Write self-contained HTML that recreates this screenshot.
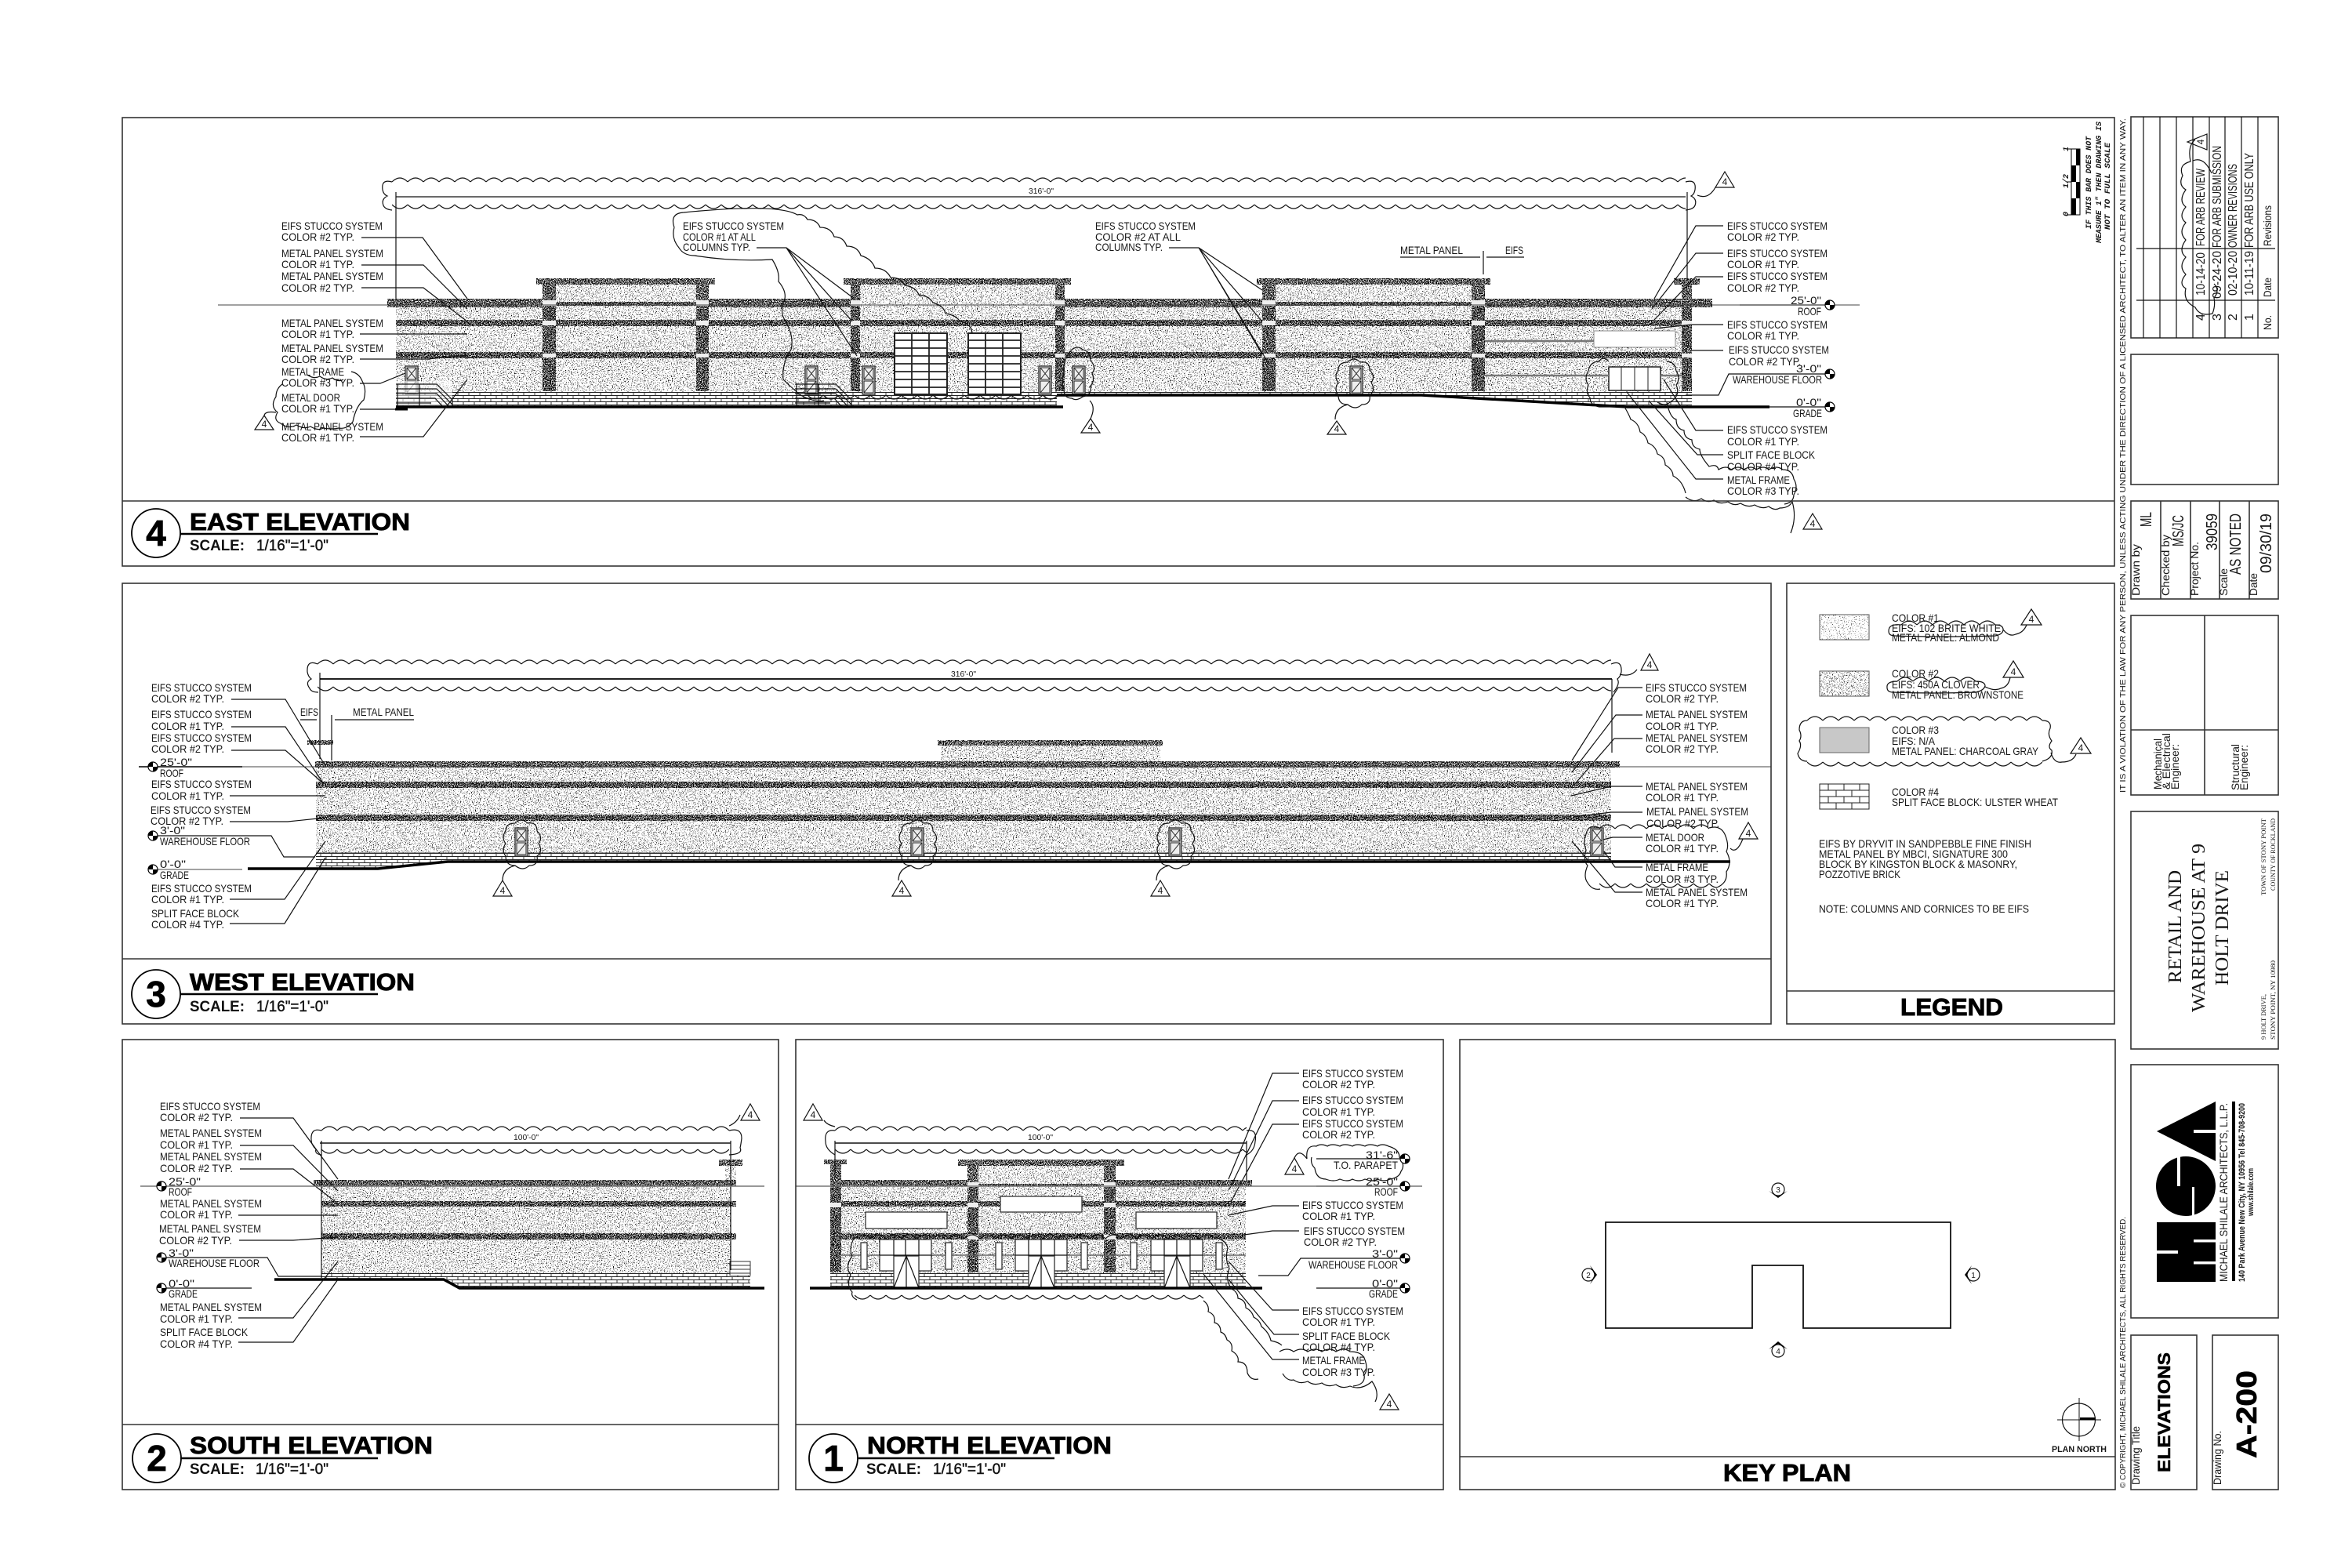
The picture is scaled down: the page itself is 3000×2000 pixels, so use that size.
<!DOCTYPE html>
<html><head><meta charset="utf-8"><title>A-200 Elevations</title>
<style>
html,body{margin:0;padding:0;background:#fff}
svg{display:block}
text{font-family:"Liberation Sans",sans-serif;font-size:14px;fill:#161616}
.f{fill:none;stroke:#333;stroke-width:1.6}
.l{fill:none;stroke:#111;stroke-width:1.2}
.b{fill:none;stroke:#000;stroke-width:3.5}
.g{fill:none;stroke:#777;stroke-width:1}
.c{fill:none;stroke:#111;stroke-width:1.2}
.h{font-weight:700;font-size:31px;fill:#000;stroke:#000;stroke-width:.9}
.n{font-weight:700;font-size:46px;fill:#000;stroke:#000;stroke-width:.8;text-anchor:middle}
.s{font-weight:700;font-size:19px;fill:#111}
.r{font-size:19px;fill:#111;stroke:#111;stroke-width:.4}
.d{font-size:10px}
.m{font-size:12px;text-anchor:middle}
.tri{fill:#fff;stroke:#111;stroke-width:1.2}
.y{font-size:10px}
.v{font-size:16px}
.big{font-size:20px}
.sf{font-family:"Liberation Serif",serif;font-size:24px}
.sm{font-family:"Liberation Serif",serif;font-size:8px}
.it{font-family:"Liberation Mono",monospace;font-style:italic;font-size:10px;font-weight:700}
</style></head><body>
<svg xmlns="http://www.w3.org/2000/svg" width="3000" height="2000" viewBox="0 0 3000 2000">
<defs>
<filter id="lt" x="0" y="0" width="1" height="1" color-interpolation-filters="sRGB"><feTurbulence type="fractalNoise" baseFrequency=".8" numOctaves="2" seed="4"/><feColorMatrix values="0 0 0 0 0 0 0 0 0 0 0 0 0 0 0 -12 0 0 0 4.8"/><feComposite in2="SourceAlpha" operator="in"/></filter>
<filter id="dk" x="0" y="0" width="1" height="1" color-interpolation-filters="sRGB"><feTurbulence type="fractalNoise" baseFrequency=".9" numOctaves="2" seed="9"/><feColorMatrix values="0 0 0 0 0 0 0 0 0 0 0 0 0 0 0 -12 0 0 0 6.9"/><feComposite in2="SourceAlpha" operator="in"/></filter>
<filter id="sp" x="0" y="0" width="1" height="1" color-interpolation-filters="sRGB"><feTurbulence type="fractalNoise" baseFrequency=".8" numOctaves="2" seed="2"/><feColorMatrix values="0 0 0 0 0 0 0 0 0 0 0 0 0 0 0 -12 0 0 0 4.2"/><feComposite in2="SourceAlpha" operator="in"/></filter>
<pattern id="st" width="20" height="8" patternUnits="userSpaceOnUse"><path d="M0 7Q10-3 20 7" fill="none" stroke="#111" stroke-width="1.2"/></pattern>
<pattern id="sb" width="20" height="8" patternUnits="userSpaceOnUse"><path d="M0 1Q10 11 20 1" fill="none" stroke="#111" stroke-width="1.2"/></pattern>
<pattern id="br" width="14" height="8" patternUnits="userSpaceOnUse"><rect width="14" height="8" fill="#fff"/><path d="M0 .5H14M0 4.5H14M3 0V4M10 4V8" stroke="#222" stroke-width=".9" fill="none"/></pattern>
<g id="dr"><rect width="16" height="36" fill="#eee" stroke="#333" stroke-width="1.4"/><path d="M2 2H14V17H2ZM2 17L14 2M2 2L14 17M2 19H14V34H2ZM2 34L14 19" fill="none" stroke="#222"/></g>
<g id="dc"><path class="c" d="M-8 4q8-8 16 0q12-2 12 10q8 8 2 16q6 10-2 16q2 12-10 12q-8 8-18 0q-12 0-12-12q-6-8 0-16q-6-8 0-16q0-10 12-10zM-8 58q-16 4-16 19"/></g>
<g id="tg"><circle r="6" fill="#fff" stroke="#000" stroke-width="1.2"/><path d="M0 0V-6.500A6.500 6.500 0 0 0-6.500 0ZM0 0V6.500A6.500 6.500 0 0 0 6.500 0Z" fill="#000"/></g>
<g id="sr"><path class="l" d="M0 4H52L72 24V33M0 10H52L72 30M0 16H52L68 33M0 22H50L60 33M0 28H45M30 4V33M2 4V33"/></g>
</defs>
<rect width="3000" height="2000" fill="#fff"/>

<!-- stipple fields -->
<g filter="url(#lt)" fill="#000">
<rect x="505" y="392" width="1653" height="107"/><rect x="709" y="363" width="179" height="29"/><rect x="1097" y="363" width="249" height="29"/><rect x="1627" y="363" width="250" height="29"/>
<rect x="403" y="979" width="1652" height="109"/><rect x="1200" y="951" width="280" height="20"/>
<rect x="410" y="1513" width="522" height="111"/><rect x="925" y="1487" width="14" height="18"/>
<rect x="1059" y="1513" width="530" height="111"/><rect x="1248" y="1487" width="160" height="26"/>
<rect x="2321" y="856" width="63" height="32"/>
</g>
<g filter="url(#sp)" fill="#000"><rect x="2321" y="784" width="63" height="32"/></g>
<g filter="url(#dk)" fill="#000">
<rect x="494" y="381" width="198" height="11"/><rect x="904" y="381" width="181" height="11"/><rect x="1358" y="381" width="252" height="11"/><rect x="1894" y="381" width="290" height="11"/>
<rect x="709" y="385" width="179" height="5"/><rect x="1627" y="385" width="250" height="5"/>
<rect x="505" y="408" width="1653" height="8"/><rect x="505" y="449" width="1653" height="8"/>
<rect x="684" y="355" width="228" height="8"/><rect x="1076" y="355" width="290" height="8"/><rect x="1603" y="355" width="298" height="8"/><rect x="2135" y="355" width="33" height="8"/>
<rect x="692" y="363" width="17" height="136"/><rect x="888" y="363" width="16" height="136"/><rect x="1085" y="363" width="12" height="136"/><rect x="1346" y="363" width="12" height="136"/><rect x="1610" y="363" width="17" height="136"/><rect x="1877" y="363" width="17" height="136"/><rect x="2145" y="363" width="13" height="136"/>
<rect x="402" y="971" width="1664" height="8"/><rect x="403" y="997" width="1652" height="8"/><rect x="403" y="1039" width="1652" height="8"/><rect x="1196" y="944" width="287" height="7"/><rect x="392" y="944" width="33" height="6"/>
<rect x="400" y="1505" width="539" height="8"/><rect x="410" y="1532" width="529" height="7"/><rect x="410" y="1573" width="529" height="8"/><rect x="917" y="1479" width="30" height="8"/>
<rect x="1059" y="1505" width="175" height="8"/><rect x="1423" y="1505" width="174" height="8"/><rect x="1248" y="1510" width="160" height="3"/><rect x="1059" y="1532" width="530" height="7"/><rect x="1059" y="1573" width="530" height="8"/>
<rect x="1051" y="1479" width="29" height="6"/><rect x="1222" y="1479" width="212" height="8"/><rect x="1059" y="1485" width="14" height="138"/><rect x="1234" y="1487" width="14" height="136"/><rect x="1408" y="1487" width="15" height="136"/>
</g>

<!-- east details -->
<path d="M692 383h17v7h-17zM888 383h16v7h-16zM1085 383h12v7h-12zM1346 383h12v7h-12zM1610 383h17v7h-17zM1877 383h17v7h-17zM692 409h17v6h-17zM888 409h16v6h-16zM1085 409h12v6h-12zM1346 409h12v6h-12zM1610 409h17v6h-17zM1877 409h17v6h-17zM2145 409h13v6h-13zM692 451h17v5h-17zM888 451h16v5h-16zM1085 451h12v5h-12zM1346 451h12v5h-12zM1610 451h17v5h-17zM1877 451h17v5h-17zM2145 451h13v5h-13z" fill="#eee"/>
<rect x="505" y="499" width="843" height="20" fill="url(#br)"/><rect x="1348" y="499" width="465" height="5" fill="url(#br)"/><path d="M1813 499H2158V519H2075L1813 504Z" fill="url(#br)"/>
<g fill="#fff" stroke="#222" stroke-width="2">
<rect x="1141" y="425" width="67" height="78"/><rect x="1235" y="425" width="67" height="78"/></g>
<path d="M1163 425V503M1185 425V503M1141 434H1208M1141 444H1208M1141 454H1208M1141 464H1208M1141 474H1208M1141 484H1208M1141 494H1208M1257 425V503M1279 425V503M1235 434H1302M1235 444H1302M1235 454H1302M1235 464H1302M1235 474H1302M1235 484H1302M1235 494H1302" stroke="#222" stroke-width="1.8" fill="none"/>
<rect x="2033" y="422" width="104" height="21" fill="#fff" stroke="#888"/>
<rect x="2052" y="468" width="66" height="30" fill="#fff" stroke="#222" stroke-width="1.5"/><path d="M2068 468V498M2085 468V498M2102 468V498" stroke="#222" fill="none"/>
<path d="M1894 435H2033M1894 479H2052M2118 479H2145" stroke="#777" stroke-width="2.500" fill="none"/>
<use href="#dr" x="517" y="467"/><use href="#dr" x="1027" y="467"/><use href="#dr" x="1100" y="467"/><use href="#dr" x="1325" y="467"/><use href="#dr" x="1368" y="467"/><use href="#dr" x="1722" y="467"/>
<rect x="505" y="486" width="72" height="33" fill="#fff" opacity=".6"/><use href="#sr" x="505" y="486"/><use href="#sr" x="1014" y="486"/>
<path class="b" d="M505 519H1356M1348 504H1813L2075 519H2257"/>
<path class="l" d="M461 303H539L596 381M461 338H540L596 394M461 367H540L596 410M459 426H596M459 458H545L596 453M459 489H485L517 476M459 522H504M459 557H540L596 484M965 316H1003L1087 379M1003 316L1087 410M1003 316L1093 454M1491 316H1529L1610 370M1529 316L1610 410M1529 316L1610 452M1529 316L1619 465M1786 328H1888M1896 328H1944M1892 320V350M2198 288H2163L2110 381M2198 323H2163L2107 394M2198 353H2163L2110 408M2198 414H2158L2110 419M2198 447H2158M2330 477H2205L2192 504H2150M2257 519H2330M2219 389H2330M2198 549H2163L2122 484M2198 580H2165L2103 511M2198 611H2163L2075 500"/>
<path class="l" d="M505 251H2150M505 245V381M2152 245V358" stroke-width="1"/>
<path d="M278 389H2372" stroke="#444" stroke-width=".9"/>
<path d="M504 522h16" stroke="#000" stroke-width="3"/>
<rect transform="translate(500 225)" width="1650" height="8" fill="url(#st)"/><rect transform="translate(500 260)" width="1650" height="8" fill="url(#sb)"/>
<path class="c" d="M500 232q-14-4-12 10q1 6 6 8q-8 4-5 12q2 5 11 6M2150 232q14-4 12 10q-1 6-5 8q8 4 5 12q-2 5-12 6M2165 249q14 6 23-10M860 290q-6-18 12-19q120-12 145 3q8-2 13 6q12 0 16 10q14 0 18 12q12 0 16 12q14 0 18 12q14 4 18 16q14 0 20 12q14 0 18 10q14 2 18 12q14 2 18 10q14 4 16 14q14 2 18 10q14 2 16 14M860 290q-4 14 6 26q6 10 20 10q50 8 99 5q10 16 8 28q10 12 8 22q-8 18 2 30q10 20 6 35q-12 18-10 38q8 8 22 20q20 10 30 7"/>
<rect transform="translate(1030 503)" width="320" height="8" fill="url(#sb)"/>
<use href="#dc" x="1727" y="458"/>
<path class="c" d="M1367 446q8-6 14 0q10 2 10 14q8 8 2 16q4 10-2 16q2 12-10 14q-8 6-14 2q-10 0-10-12q-4-10 0-20q-2-16 10-30zM1390 511q8 8 1 23"/>
<path class="c" d="M2052 461q-8-8-12 0q-12 0-14 12q-6 10 0 18q-4 10 2 16q0 10 12 12q0 0 20 0M2126 461q10 0 12 12q6 10 0 18q6 14-8 22q-6 6-16 0M2072 519q6 10 8 16q10 4 12 16q8 4 10 14q10 4 12 14q10 4 10 14q10 6 10 14q12 6 16 22M2126 513q4 20 12 22q0 12 10 14q0 10 10 12q0 10 10 12q0 8 12 22q10-4 12 4q10-6 16 0q10-6 16 0q10-6 16 0q10-6 16 0q10-6 18 0q12 0 14 12q6 10 0 20q0 10-12 12"/>
<path class="c" d="M2150 634q10 8 20 2q8 6 16 2q8 6 18 2q8 6 16 2q10 6 18 2q10 6 18 2q8 6 14 2q12 0 16-8q6 20-2 40"/>

<!-- west details -->
<rect x="403" y="1088" width="1652" height="11" fill="url(#br)"/><path d="M403 1099H571L482 1108H403Z" fill="url(#br)"/>
<path d="M403 1088H2055" stroke="#333" stroke-width="1"/>
<path class="b" d="M316 1108H482L571 1099H2207"/>
<path class="l" d="M295 892H364L415 977M295 927H364L413 1000M295 957H364L411 998M293 1015H415M293 1048H367L415 1043M195 1066H346L362 1093H402M293 1147H363L415 1073M293 1178H363L415 1094M2095 877H2064L2005 970M2095 912H2061L2005 985M2095 942H2059L2007 1002M2095 1003H2055L2004 1015M2095 1036H2055L2007 1042M2095 1068H2057L2036 1073M2095 1106H2060L2046 1086M2095 1138H2060L2005 1073M383 918H404M427 918H528M408 858V968M423 912V970M2056 866V960"/>
<path d="M408 866H2056" stroke="#000" stroke-width="1.800"/>
<path d="M177 978H309" stroke="#000" stroke-width="1.600"/><path d="M309 978H2259" stroke="#444" stroke-width=".9"/><path d="M195 1109H309" stroke="#444"/>
<rect transform="translate(405 840)" width="1650" height="8" fill="url(#st)"/><rect transform="translate(405 875)" width="1650" height="8" fill="url(#sb)"/>
<path class="c" d="M405 847q-14-6-13 10q1 6 5 9q-8 4-2 12q2 5 11 5M2055 847q14-6 13 10q-1 6-5 9q4 6-5 17M2066 860q14 4 22-6"/>
<use href="#dc" x="665" y="1046"/><use href="#dc" x="1170" y="1046"/><use href="#dc" x="1499" y="1046"/>
<use href="#dr" x="657" y="1056"/><use href="#dr" x="1162" y="1056"/><use href="#dr" x="1491" y="1056"/><use href="#dr" x="2029" y="1056"/>
<rect transform="translate(2040 1050)" width="140" height="8" fill="url(#st)"/><rect transform="translate(2040 1126)" width="150" height="8" fill="url(#sb)"/>
<path class="c" d="M2040 1056q-14-6-17 8q-4 10 0 20q-4 14 2 20q-6 14 0 22q6 10 16 8M2180 1056q14-4 20 8q6 14 2 22q8 14 0 26q2 14-12 20M2207 1082q8 8 16-12"/>

<!-- south details -->
<rect x="410" y="1624" width="522" height="8" fill="url(#br)"/><path d="M566 1632H957V1643H586Z" fill="url(#br)"/>
<rect x="931" y="1609" width="26" height="18" fill="#fff" stroke="#333"/><path d="M931 1614H957M931 1619H957M931 1624H957" stroke="#333"/><rect x="929" y="1627" width="28" height="16" fill="url(#br)"/>
<path class="b" d="M350 1632H566L586 1643H975"/>
<path class="l" d="M306 1426H374L431 1504M306 1461H374L431 1519M306 1491H374L428 1533M304 1550H431M305 1582H374L431 1578M206 1604H341L355 1628H411M304 1681H374L431 1609M304 1712H374L431 1632M206 1643H321M410 1455V1630M932 1455V1620"/>
<path d="M408 1458H932" stroke="#111" stroke-width="1.400"/>
<path d="M179 1513H975" stroke="#777" stroke-width="1.500"/>
<rect transform="translate(410 1435)" width="520" height="8" fill="url(#st)"/><rect transform="translate(410 1465)" width="520" height="8" fill="url(#sb)"/>
<path class="c" d="M410 1442q-14-4-13 12q0 6 6 12q-2 6 7 7M930 1442q16-4 16 10q-1 8-2 12q4 8-14 9M930 1436q10-4 14-14"/>

<!-- north details -->
<rect x="1059" y="1624" width="530" height="19" fill="url(#br)"/>
<path d="M1073 1601H1589" stroke="#666" stroke-width="1.600"/>
<path d="M1059 1534h14v6h-14zM1234 1508h14v6h-14zM1408 1508h15v6h-15zM1234 1534h14v6h-14zM1408 1534h15v6h-15zM1234 1575h14v6h-14zM1408 1575h15v6h-15z" fill="#eee"/>
<g fill="#fff" stroke="#333" stroke-width="1.300">
<rect x="1104" y="1546" width="104" height="21"/><rect x="1276" y="1526" width="104" height="20"/><rect x="1449" y="1546" width="103" height="21"/>
<rect x="1122" y="1581" width="66" height="40"/><rect x="1295" y="1581" width="66" height="40"/><rect x="1468" y="1581" width="66" height="40"/>
<rect x="1098" y="1585" width="8" height="34"/><rect x="1206" y="1585" width="8" height="34"/><rect x="1270" y="1585" width="8" height="34"/><rect x="1379" y="1585" width="8" height="34"/><rect x="1442" y="1585" width="8" height="34"/><rect x="1551" y="1585" width="8" height="34"/>
<rect x="1140" y="1602" width="32" height="41"/><rect x="1312" y="1602" width="33" height="41"/><rect x="1485" y="1602" width="33" height="41"/>
</g>
<path class="l" d="M1140 1581V1602M1155 1581V1602M1172 1581V1602M1122 1601H1188M1312 1581V1602M1328 1581V1602M1345 1581V1602M1295 1601H1361M1485 1581V1602M1501 1581V1602M1518 1581V1602M1468 1601H1534M1156 1602V1643M1140 1643L1148 1622L1156 1602L1164 1622L1172 1643M1328 1602V1643M1312 1643L1328 1602L1345 1643M1501 1602V1643M1485 1643L1501 1602L1518 1643"/>
<path class="b" d="M1033 1643H1610"/>
<path class="l" d="M1657 1369H1623L1567 1504M1657 1404H1623L1568 1517M1657 1434H1623L1570 1533M1657 1538H1623L1567 1550M1657 1570H1623L1587 1575M1788 1605H1659L1643 1627H1605M1679 1643H1788M1657 1671H1623L1567 1609M1657 1702H1625L1567 1632M1657 1734H1623L1535 1625M1679 1478H1788M1679 1513H1788M1065 1455V1500M1590 1455V1505"/>
<path d="M1065 1458H1590" stroke="#111" stroke-width="1.400"/>
<path d="M1015 1513H1814" stroke="#777" stroke-width="1.500"/>
<rect transform="translate(1065 1435)" width="525" height="8" fill="url(#st)"/><rect transform="translate(1065 1465)" width="525" height="8" fill="url(#sb)"/>
<path class="c" d="M1065 1442q-14-2-12 14q0 10 12 17M1590 1442q14-2 11 14q-1 12-11 17M1065 1437q-10-2-14-8"/>
<rect transform="translate(1090 1573)" width="460" height="8" fill="url(#st)"/><rect transform="translate(1090 1651)" width="445" height="8" fill="url(#sb)"/>
<path class="c" d="M1090 1578q-8 14-3 24q-10 14-2 24q-6 14 2 22q-2 6 6 10M1550 1578q14 4 16 14q-4 14 2 26q-6 14 3 26q8 4 8 12q10 2 10 12q8 4 10 12q8 4 10 12q10 8 12 18q10 2 14 6M1535 1659q8 6 6 14q10 4 8 14q8 2 8 12q6 2 8 10q8 4 6 14q10 6 8 14q12 0 12 14q4 10 14 8M1632 1724q10-6 18 0q10-6 18 0q10-6 18 0q10-6 18 0q10-6 18 0q14 0 18 8q6 14 0 22q2 12-14 14M1636 1752q6 10 14 8q8 6 18 2q8 6 18 2q8 6 18 2q8 6 18 2q14 6 28-6q10 14 4 26M1667 1478q-2-18 12-16q6-4 14 0q6-4 16 0q6-4 16 0q6-4 16 0q6-4 16 0q6-4 14 0q14 4 14 14q8 10 2 18q-2 8-14 10q-8 4-16 0q-6 4-16 0q-8 4-16 0q-6 4-16 0q-8 4-18 0q-12 0-14-14q-6-6-4-14M1667 1478q-10-14-16-1"/>

<!-- triangles -->
<g class="tri">
<path d="M2200 219l12 20h-24zM337 530l12 18h-24zM1391 534l12 18h-24zM1705 537l12 17h-24zM2312 655l12 20h-24zM2104 834l11 21h-22zM641 1123l12 20h-24zM1150 1123l12 20h-24zM1480 1123l12 20h-24zM2230 1049l12 21h-24zM957 1408l12 21h-24zM1037 1408l12 21h-24zM1651 1477l12 21h-24zM1772 1778l12 20h-24zM2591 777l13 20h-26zM2568 843l13 21h-26zM2654 941l13 20h-26zM2790 181l25-10v20z"/>
</g>
<g class="m">
<text class="m" x="2200" y="236">4</text><text class="m" x="337" y="545">4</text><text class="m" x="1391" y="549">4</text><text class="m" x="1705" y="551">4</text><text class="m" x="2312" y="672">4</text><text class="m" x="2104" y="852">4</text><text class="m" x="641" y="1140">4</text><text class="m" x="1150" y="1140">4</text><text class="m" x="1480" y="1140">4</text><text class="m" x="2230" y="1067">4</text><text class="m" x="957" y="1426">4</text><text class="m" x="1037" y="1426">4</text><text class="m" x="1651" y="1495">4</text><text class="m" x="1772" y="1795">4</text><text class="m" x="2591" y="794">4</text><text class="m" x="2568" y="861">4</text><text class="m" x="2654" y="958">4</text><text class="m" transform="rotate(-90 2811 181)" x="2811" y="181">4</text>
</g>

<!-- elevation targets -->
<use href="#tg" x="2334" y="389"/><use href="#tg" x="2334" y="477"/><use href="#tg" x="2334" y="519"/>
<use href="#tg" x="195" y="978"/><use href="#tg" x="195" y="1066"/><use href="#tg" x="195" y="1109"/>
<use href="#tg" x="206" y="1513"/><use href="#tg" x="206" y="1604"/><use href="#tg" x="206" y="1643"/>
<use href="#tg" x="1792" y="1478"/><use href="#tg" x="1792" y="1513"/><use href="#tg" x="1792" y="1605"/><use href="#tg" x="1792" y="1643"/>

<!-- frames -->
<g class="f">
<rect x="156" y="150" width="2541" height="572"/><path d="M156 639H2697"/>
<rect x="156" y="744" width="2103" height="562"/><path d="M156 1223H2259"/>
<rect x="2279" y="744" width="418" height="562"/><path d="M2279 1264H2697"/>
<rect x="156" y="1326" width="837" height="574"/><path d="M156 1817H993"/>
<rect x="1015" y="1326" width="826" height="574"/><path d="M1015 1817H1841"/>
<rect x="1862" y="1326" width="836" height="574"/><path d="M1862 1858H2698"/>
<rect x="2718" y="149" width="188" height="282"/>
<rect x="2718" y="452" width="188" height="166"/>
<rect x="2718" y="639" width="188" height="125"/><path d="M2756 639V764M2794 639V764M2831 639V764M2869 639V764"/>
<rect x="2718" y="785" width="188" height="229"/><path d="M2812 785V1014M2718 931H2906"/>
<rect x="2718" y="1035" width="188" height="303"/>
<rect x="2718" y="1358" width="188" height="323"/>
<rect x="2718" y="1703" width="84" height="197"/>
<rect x="2822" y="1703" width="84" height="197"/>
</g>

<!-- titles -->
<g fill="#fff" stroke="#000" stroke-width="1.800">
<circle cx="199" cy="680" r="31"/><circle cx="199" cy="1268" r="31"/><circle cx="200" cy="1860" r="31"/><circle cx="1063" cy="1860" r="31"/>
</g>
<path d="M230 681H482M230 1268H482M230 1860H482M1095 1860H1345" stroke="#000" stroke-width="2.500"/>
<text class="n" x="199" y="696">4</text><text class="n" x="199" y="1284">3</text><text class="n" x="200" y="1876">2</text><text class="n" x="1063" y="1876">1</text>
<text class="h" x="242" y="676" textLength="281" lengthAdjust="spacingAndGlyphs">EAST ELEVATION</text>
<text class="h" x="242" y="1263" textLength="287" lengthAdjust="spacingAndGlyphs">WEST ELEVATION</text>
<text class="h" x="242" y="1854" textLength="310" lengthAdjust="spacingAndGlyphs">SOUTH ELEVATION</text>
<text class="h" x="1106" y="1854" textLength="312" lengthAdjust="spacingAndGlyphs">NORTH ELEVATION</text>
<text class="s" x="242" y="702" textLength="70" lengthAdjust="spacingAndGlyphs">SCALE:</text><text class="r" x="327" y="702" textLength="92" lengthAdjust="spacingAndGlyphs">1/16"=1'-0"</text>
<text class="s" x="242" y="1290" textLength="70" lengthAdjust="spacingAndGlyphs">SCALE:</text><text class="r" x="327" y="1290" textLength="92" lengthAdjust="spacingAndGlyphs">1/16"=1'-0"</text>
<text class="s" x="242" y="1880" textLength="70" lengthAdjust="spacingAndGlyphs">SCALE:</text><text class="r" x="326" y="1880" textLength="93" lengthAdjust="spacingAndGlyphs">1/16"=1'-0"</text>
<text class="s" x="1105" y="1880" textLength="70" lengthAdjust="spacingAndGlyphs">SCALE:</text><text class="r" x="1190" y="1880" textLength="93" lengthAdjust="spacingAndGlyphs">1/16"=1'-0"</text>
<text class="h" x="2424" y="1295" textLength="131" lengthAdjust="spacingAndGlyphs">LEGEND</text>
<text class="h" x="2198" y="1889" textLength="163" lengthAdjust="spacingAndGlyphs">KEY PLAN</text>

<!-- east labels -->
<text x="359" y="293" textLength="129" lengthAdjust="spacingAndGlyphs">EIFS STUCCO SYSTEM</text><text x="359" y="307" textLength="93" lengthAdjust="spacingAndGlyphs">COLOR #2 TYP.</text>
<text x="359" y="328" textLength="130" lengthAdjust="spacingAndGlyphs">METAL PANEL SYSTEM</text><text x="359" y="342" textLength="93" lengthAdjust="spacingAndGlyphs">COLOR #1 TYP.</text>
<text x="359" y="357" textLength="130" lengthAdjust="spacingAndGlyphs">METAL PANEL SYSTEM</text><text x="359" y="372" textLength="93" lengthAdjust="spacingAndGlyphs">COLOR #2 TYP.</text>
<text x="359" y="417" textLength="130" lengthAdjust="spacingAndGlyphs">METAL PANEL SYSTEM</text><text x="359" y="431" textLength="93" lengthAdjust="spacingAndGlyphs">COLOR #1 TYP.</text>
<text x="359" y="449" textLength="130" lengthAdjust="spacingAndGlyphs">METAL PANEL SYSTEM</text><text x="359" y="463" textLength="93" lengthAdjust="spacingAndGlyphs">COLOR #2 TYP.</text>
<text x="359" y="479" textLength="80" lengthAdjust="spacingAndGlyphs">METAL FRAME</text><text x="359" y="493" textLength="93" lengthAdjust="spacingAndGlyphs">COLOR #3 TYP.</text>
<text x="359" y="512" textLength="75" lengthAdjust="spacingAndGlyphs">METAL DOOR</text><text x="359" y="526" textLength="93" lengthAdjust="spacingAndGlyphs">COLOR #1 TYP.</text>
<text x="359" y="549" textLength="130" lengthAdjust="spacingAndGlyphs">METAL PANEL SYSTEM</text><text x="359" y="563" textLength="93" lengthAdjust="spacingAndGlyphs">COLOR #1 TYP.</text>
<path class="c" d="M392 478q8 6 16 2q8 6 16 2q8 6 14 2M360 490q-8 6-8 16q-8 12 2 20q-6 10 4 14q10 8 20 2q10 6 18 2q10 6 16 2q12 2 20 0q10 2 18-8q4-20 14-28q4-14-2-24q-4-10-14-12M352 526q-14-2-15 4"/>
<text x="871" y="293" textLength="129" lengthAdjust="spacingAndGlyphs">EIFS STUCCO SYSTEM</text><text x="871" y="307" textLength="93" lengthAdjust="spacingAndGlyphs">COLOR #1 AT ALL</text><text x="871" y="320" textLength="86" lengthAdjust="spacingAndGlyphs">COLUMNS TYP.</text>
<text x="1397" y="293" textLength="128" lengthAdjust="spacingAndGlyphs">EIFS STUCCO SYSTEM</text><text x="1397" y="307" textLength="109" lengthAdjust="spacingAndGlyphs">COLOR #2 AT ALL</text><text x="1397" y="320" textLength="86" lengthAdjust="spacingAndGlyphs">COLUMNS TYP.</text>
<text x="1786" y="324" textLength="80" lengthAdjust="spacingAndGlyphs">METAL PANEL</text><text x="1920" y="324" textLength="23" lengthAdjust="spacingAndGlyphs">EIFS</text>
<text class="d" x="1312" y="247" textLength="32" lengthAdjust="spacingAndGlyphs">316'-0"</text>
<text x="2203" y="293" textLength="128" lengthAdjust="spacingAndGlyphs">EIFS STUCCO SYSTEM</text><text x="2203" y="307" textLength="92" lengthAdjust="spacingAndGlyphs">COLOR #2 TYP.</text>
<text x="2203" y="328" textLength="128" lengthAdjust="spacingAndGlyphs">EIFS STUCCO SYSTEM</text><text x="2203" y="342" textLength="92" lengthAdjust="spacingAndGlyphs">COLOR #1 TYP.</text>
<text x="2203" y="357" textLength="128" lengthAdjust="spacingAndGlyphs">EIFS STUCCO SYSTEM</text><text x="2203" y="372" textLength="92" lengthAdjust="spacingAndGlyphs">COLOR #2 TYP.</text>
<text x="2284" y="388" textLength="39" lengthAdjust="spacingAndGlyphs">25'-0"</text><text x="2293" y="402" textLength="30" lengthAdjust="spacingAndGlyphs">ROOF</text>
<text x="2203" y="419" textLength="128" lengthAdjust="spacingAndGlyphs">EIFS STUCCO SYSTEM</text><text x="2203" y="433" textLength="92" lengthAdjust="spacingAndGlyphs">COLOR #1 TYP.</text>
<text x="2205" y="451" textLength="128" lengthAdjust="spacingAndGlyphs">EIFS STUCCO SYSTEM</text><text x="2205" y="466" textLength="92" lengthAdjust="spacingAndGlyphs">COLOR #2 TYP.</text>
<text x="2291" y="475" textLength="32" lengthAdjust="spacingAndGlyphs">3'-0"</text><text x="2210" y="489" textLength="114" lengthAdjust="spacingAndGlyphs">WAREHOUSE FLOOR</text>
<text x="2291" y="518" textLength="32" lengthAdjust="spacingAndGlyphs">0'-0"</text><text x="2287" y="532" textLength="37" lengthAdjust="spacingAndGlyphs">GRADE</text>
<text x="2203" y="553" textLength="128" lengthAdjust="spacingAndGlyphs">EIFS STUCCO SYSTEM</text><text x="2203" y="568" textLength="92" lengthAdjust="spacingAndGlyphs">COLOR #1 TYP.</text>
<text x="2203" y="585" textLength="112" lengthAdjust="spacingAndGlyphs">SPLIT FACE BLOCK</text><text x="2203" y="600" textLength="92" lengthAdjust="spacingAndGlyphs">COLOR #4 TYP.</text>
<text x="2203" y="617" textLength="80" lengthAdjust="spacingAndGlyphs">METAL FRAME</text><text x="2203" y="631" textLength="92" lengthAdjust="spacingAndGlyphs">COLOR #3 TYP.</text>

<!-- west labels -->
<text x="193" y="882" textLength="128" lengthAdjust="spacingAndGlyphs">EIFS STUCCO SYSTEM</text><text x="193" y="896" textLength="93" lengthAdjust="spacingAndGlyphs">COLOR #2 TYP.</text>
<text x="193" y="916" textLength="128" lengthAdjust="spacingAndGlyphs">EIFS STUCCO SYSTEM</text><text x="193" y="931" textLength="93" lengthAdjust="spacingAndGlyphs">COLOR #1 TYP.</text>
<text x="193" y="946" textLength="128" lengthAdjust="spacingAndGlyphs">EIFS STUCCO SYSTEM</text><text x="193" y="960" textLength="93" lengthAdjust="spacingAndGlyphs">COLOR #2 TYP.</text>
<text x="204" y="977" textLength="41" lengthAdjust="spacingAndGlyphs">25'-0"</text><text x="204" y="991" textLength="30" lengthAdjust="spacingAndGlyphs">ROOF</text>
<text x="193" y="1005" textLength="128" lengthAdjust="spacingAndGlyphs">EIFS STUCCO SYSTEM</text><text x="193" y="1020" textLength="93" lengthAdjust="spacingAndGlyphs">COLOR #1 TYP.</text>
<text x="192" y="1038" textLength="128" lengthAdjust="spacingAndGlyphs">EIFS STUCCO SYSTEM</text><text x="192" y="1052" textLength="93" lengthAdjust="spacingAndGlyphs">COLOR #2 TYP.</text>
<text x="204" y="1064" textLength="32" lengthAdjust="spacingAndGlyphs">3'-0"</text><text x="204" y="1078" textLength="115" lengthAdjust="spacingAndGlyphs">WAREHOUSE FLOOR</text>
<text x="204" y="1107" textLength="33" lengthAdjust="spacingAndGlyphs">0'-0"</text><text x="204" y="1121" textLength="37" lengthAdjust="spacingAndGlyphs">GRADE</text>
<text x="193" y="1138" textLength="128" lengthAdjust="spacingAndGlyphs">EIFS STUCCO SYSTEM</text><text x="193" y="1152" textLength="93" lengthAdjust="spacingAndGlyphs">COLOR #1 TYP.</text>
<text x="193" y="1170" textLength="112" lengthAdjust="spacingAndGlyphs">SPLIT FACE BLOCK</text><text x="193" y="1184" textLength="93" lengthAdjust="spacingAndGlyphs">COLOR #4 TYP.</text>
<text x="383" y="913" textLength="23" lengthAdjust="spacingAndGlyphs">EIFS</text><text x="450" y="913" textLength="78" lengthAdjust="spacingAndGlyphs">METAL PANEL</text>
<text class="d" x="1213" y="863" textLength="32" lengthAdjust="spacingAndGlyphs">316'-0"</text>
<text x="2099" y="882" textLength="129" lengthAdjust="spacingAndGlyphs">EIFS STUCCO SYSTEM</text><text x="2099" y="896" textLength="93" lengthAdjust="spacingAndGlyphs">COLOR #2 TYP.</text>
<text x="2099" y="916" textLength="130" lengthAdjust="spacingAndGlyphs">METAL PANEL SYSTEM</text><text x="2099" y="931" textLength="93" lengthAdjust="spacingAndGlyphs">COLOR #1 TYP.</text>
<text x="2099" y="946" textLength="130" lengthAdjust="spacingAndGlyphs">METAL PANEL SYSTEM</text><text x="2099" y="960" textLength="93" lengthAdjust="spacingAndGlyphs">COLOR #2 TYP.</text>
<text x="2099" y="1008" textLength="130" lengthAdjust="spacingAndGlyphs">METAL PANEL SYSTEM</text><text x="2099" y="1022" textLength="93" lengthAdjust="spacingAndGlyphs">COLOR #1 TYP.</text>
<text x="2100" y="1040" textLength="130" lengthAdjust="spacingAndGlyphs">METAL PANEL SYSTEM</text><text x="2100" y="1055" textLength="93" lengthAdjust="spacingAndGlyphs">COLOR #2 TYP.</text>
<text x="2099" y="1073" textLength="75" lengthAdjust="spacingAndGlyphs">METAL DOOR</text><text x="2099" y="1087" textLength="93" lengthAdjust="spacingAndGlyphs">COLOR #1 TYP.</text>
<text x="2099" y="1111" textLength="80" lengthAdjust="spacingAndGlyphs">METAL FRAME</text><text x="2099" y="1126" textLength="93" lengthAdjust="spacingAndGlyphs">COLOR #3 TYP.</text>
<text x="2099" y="1143" textLength="130" lengthAdjust="spacingAndGlyphs">METAL PANEL SYSTEM</text><text x="2099" y="1157" textLength="93" lengthAdjust="spacingAndGlyphs">COLOR #1 TYP.</text>

<!-- legend -->
<g fill="none" stroke="#555"><rect x="2321" y="784" width="63" height="32"/><rect x="2321" y="856" width="63" height="32"/></g>
<rect x="2321" y="928" width="63" height="32" fill="#c8c8c8" stroke="#666"/>
<g><rect x="2321" y="1000" width="63" height="32" fill="#fff" stroke="#222"/><path d="M2321 1008H2384M2321 1016H2384M2321 1024H2384M2332 1000V1008M2352 1000V1008M2372 1000V1008M2342 1008V1016M2362 1008V1016M2332 1016V1024M2352 1016V1024M2372 1016V1024M2342 1024V1032M2362 1024V1032" stroke="#222" fill="none"/></g>
<text x="2413" y="793" textLength="60" lengthAdjust="spacingAndGlyphs">COLOR #1</text><text x="2413" y="806" textLength="139" lengthAdjust="spacingAndGlyphs">EIFS: 102 BRITE WHITE</text><text x="2413" y="818" textLength="137" lengthAdjust="spacingAndGlyphs">METAL PANEL: ALMOND</text>
<text x="2413" y="864" textLength="60" lengthAdjust="spacingAndGlyphs">COLOR #2</text><text x="2413" y="878" textLength="112" lengthAdjust="spacingAndGlyphs">EIFS: 450A CLOVER</text><text x="2413" y="891" textLength="168" lengthAdjust="spacingAndGlyphs">METAL PANEL: BROWNSTONE</text>
<text x="2413" y="936" textLength="60" lengthAdjust="spacingAndGlyphs">COLOR #3</text><text x="2413" y="950" textLength="55" lengthAdjust="spacingAndGlyphs">EIFS: N/A</text><text x="2413" y="963" textLength="187" lengthAdjust="spacingAndGlyphs">METAL PANEL: CHARCOAL GRAY</text>
<text x="2413" y="1015" textLength="60" lengthAdjust="spacingAndGlyphs">COLOR #4</text><text x="2413" y="1028" textLength="212" lengthAdjust="spacingAndGlyphs">SPLIT FACE BLOCK: ULSTER WHEAT</text>
<text x="2320" y="1081" textLength="271" lengthAdjust="spacingAndGlyphs">EIFS BY DRYVIT IN SANDPEBBLE FINE FINISH</text><text x="2320" y="1094" textLength="241" lengthAdjust="spacingAndGlyphs">METAL PANEL BY MBCI, SIGNATURE 300</text><text x="2320" y="1107" textLength="253" lengthAdjust="spacingAndGlyphs">BLOCK BY KINGSTON BLOCK &amp; MASONRY,</text><text x="2320" y="1120" textLength="104" lengthAdjust="spacingAndGlyphs">POZZOTIVE BRICK</text>
<text x="2320" y="1164" textLength="268" lengthAdjust="spacingAndGlyphs">NOTE: COLUMNS AND CORNICES TO BE EIFS</text>
<rect transform="translate(2425 790)" width="120" height="8" fill="url(#st)"/>
<path class="c" d="M2425 797q-16-2-16 8q0 6 8 6q60 2 128 0q10-2 10-8q0-6-10-6M2555 803q8 10 16 6q10-2 14-12"/>
<rect transform="translate(2420 862)" width="100" height="8" fill="url(#st)"/>
<path class="c" d="M2420 869q-14 0-13 8q0 6 8 6q50 2 105 0q10-2 12-8q0-6-12-6M2532 876q12 6 20 2q10-2 12-14"/>
<rect transform="translate(2305 912)" width="300" height="8" fill="url(#st)"/><rect transform="translate(2305 971)" width="300" height="8" fill="url(#sb)"/>
<path class="c" d="M2305 919q-10 0-10 12q4 8 0 14q4 6-2 16q2 10 12 10M2605 919q12 0 10 10q-4 8 2 16q-6 8 0 12q2 10-12 14M2616 960q4 14 14 12q14 0 18-10"/>

<!-- south labels -->
<text x="204" y="1416" textLength="128" lengthAdjust="spacingAndGlyphs">EIFS STUCCO SYSTEM</text><text x="204" y="1430" textLength="93" lengthAdjust="spacingAndGlyphs">COLOR #2 TYP.</text>
<text x="204" y="1450" textLength="130" lengthAdjust="spacingAndGlyphs">METAL PANEL SYSTEM</text><text x="204" y="1465" textLength="93" lengthAdjust="spacingAndGlyphs">COLOR #1 TYP.</text>
<text x="204" y="1480" textLength="130" lengthAdjust="spacingAndGlyphs">METAL PANEL SYSTEM</text><text x="204" y="1495" textLength="93" lengthAdjust="spacingAndGlyphs">COLOR #2 TYP.</text>
<text x="215" y="1512" textLength="41" lengthAdjust="spacingAndGlyphs">25'-0"</text><text x="215" y="1525" textLength="30" lengthAdjust="spacingAndGlyphs">ROOF</text>
<text x="204" y="1540" textLength="130" lengthAdjust="spacingAndGlyphs">METAL PANEL SYSTEM</text><text x="204" y="1554" textLength="93" lengthAdjust="spacingAndGlyphs">COLOR #1 TYP.</text>
<text x="203" y="1572" textLength="130" lengthAdjust="spacingAndGlyphs">METAL PANEL SYSTEM</text><text x="203" y="1587" textLength="93" lengthAdjust="spacingAndGlyphs">COLOR #2 TYP.</text>
<text x="215" y="1603" textLength="32" lengthAdjust="spacingAndGlyphs">3'-0"</text><text x="215" y="1616" textLength="116" lengthAdjust="spacingAndGlyphs">WAREHOUSE FLOOR</text>
<text x="215" y="1642" textLength="33" lengthAdjust="spacingAndGlyphs">0'-0"</text><text x="215" y="1655" textLength="37" lengthAdjust="spacingAndGlyphs">GRADE</text>
<text x="204" y="1672" textLength="130" lengthAdjust="spacingAndGlyphs">METAL PANEL SYSTEM</text><text x="204" y="1687" textLength="93" lengthAdjust="spacingAndGlyphs">COLOR #1 TYP.</text>
<text x="204" y="1704" textLength="112" lengthAdjust="spacingAndGlyphs">SPLIT FACE BLOCK</text><text x="204" y="1719" textLength="93" lengthAdjust="spacingAndGlyphs">COLOR #4 TYP.</text>
<text class="d" x="655" y="1454" textLength="32" lengthAdjust="spacingAndGlyphs">100'-0"</text>

<!-- north labels -->
<text class="d" x="1311" y="1454" textLength="32" lengthAdjust="spacingAndGlyphs">100'-0"</text>
<text x="1661" y="1374" textLength="129" lengthAdjust="spacingAndGlyphs">EIFS STUCCO SYSTEM</text><text x="1661" y="1388" textLength="93" lengthAdjust="spacingAndGlyphs">COLOR #2 TYP.</text>
<text x="1661" y="1408" textLength="129" lengthAdjust="spacingAndGlyphs">EIFS STUCCO SYSTEM</text><text x="1661" y="1423" textLength="93" lengthAdjust="spacingAndGlyphs">COLOR #1 TYP.</text>
<text x="1661" y="1438" textLength="129" lengthAdjust="spacingAndGlyphs">EIFS STUCCO SYSTEM</text><text x="1661" y="1452" textLength="93" lengthAdjust="spacingAndGlyphs">COLOR #2 TYP.</text>
<text x="1742" y="1478" textLength="41" lengthAdjust="spacingAndGlyphs">31'-6"</text><text x="1701" y="1491" textLength="82" lengthAdjust="spacingAndGlyphs">T.O. PARAPET</text>
<text x="1742" y="1512" textLength="41" lengthAdjust="spacingAndGlyphs">25'-0"</text><text x="1753" y="1525" textLength="30" lengthAdjust="spacingAndGlyphs">ROOF</text>
<text x="1661" y="1542" textLength="129" lengthAdjust="spacingAndGlyphs">EIFS STUCCO SYSTEM</text><text x="1661" y="1556" textLength="93" lengthAdjust="spacingAndGlyphs">COLOR #1 TYP.</text>
<text x="1663" y="1575" textLength="129" lengthAdjust="spacingAndGlyphs">EIFS STUCCO SYSTEM</text><text x="1663" y="1589" textLength="93" lengthAdjust="spacingAndGlyphs">COLOR #2 TYP.</text>
<text x="1750" y="1604" textLength="33" lengthAdjust="spacingAndGlyphs">3'-0"</text><text x="1669" y="1618" textLength="114" lengthAdjust="spacingAndGlyphs">WAREHOUSE FLOOR</text>
<text x="1750" y="1642" textLength="33" lengthAdjust="spacingAndGlyphs">0'-0"</text><text x="1746" y="1655" textLength="37" lengthAdjust="spacingAndGlyphs">GRADE</text>
<text x="1661" y="1677" textLength="129" lengthAdjust="spacingAndGlyphs">EIFS STUCCO SYSTEM</text><text x="1661" y="1691" textLength="93" lengthAdjust="spacingAndGlyphs">COLOR #1 TYP.</text>
<text x="1661" y="1709" textLength="112" lengthAdjust="spacingAndGlyphs">SPLIT FACE BLOCK</text><text x="1661" y="1723" textLength="93" lengthAdjust="spacingAndGlyphs">COLOR #4 TYP.</text>
<text x="1661" y="1740" textLength="80" lengthAdjust="spacingAndGlyphs">METAL FRAME</text><text x="1661" y="1755" textLength="93" lengthAdjust="spacingAndGlyphs">COLOR #3 TYP.</text>

<!-- key plan -->
<path d="M2048 1559H2488V1694H2300V1614H2235V1694H2048Z" fill="#fff" stroke="#111" stroke-width="1.800"/>
<g fill="#fff" stroke="#111" stroke-width="1.200"><circle cx="2268" cy="1517" r="8"/><circle cx="2268" cy="1723" r="8"/><circle cx="2026" cy="1626" r="8"/><circle cx="2517" cy="1626" r="8"/></g>
<path d="M2256 1519L2268 1528L2280 1519L2268 1526ZM2256 1721L2268 1711L2280 1721L2268 1714ZM2028 1614L2037 1626L2028 1638L2034 1626ZM2515 1614L2506 1626L2515 1638L2509 1626Z" fill="#000"/>
<g font-size="10"><text class="d" x="2268" y="1521" text-anchor="middle">3</text><text class="d" x="2268" y="1727" text-anchor="middle">4</text><text class="d" x="2026" y="1630" text-anchor="middle">2</text><text class="d" x="2517" y="1630" text-anchor="middle">1</text></g>
<circle cx="2651.500" cy="1811" r="21" fill="none" stroke="#111" stroke-width="1.200"/>
<path d="M2624 1811H2680M2652 1783V1838" stroke="#111"/><rect x="2653" y="1808" width="20" height="3.500"/>
<text x="2617" y="1852" textLength="70" lengthAdjust="spacingAndGlyphs" style="font-size:11px;font-weight:700">PLAN NORTH</text>

<!-- vertical notes -->
<text class="y" transform="rotate(-90 2711 1011)" x="2711" y="1011" textLength="860" lengthAdjust="spacingAndGlyphs">IT IS A VIOLATION OF THE LAW FOR ANY PERSON, UNLESS ACTING UNDER THE DIRECTION OF A LICENSED ARCHITECT, TO ALTER AN ITEM IN ANY WAY.</text>
<text class="y" transform="rotate(-90 2711 1898)" x="2711" y="1898" textLength="346" lengthAdjust="spacingAndGlyphs">© COPYRIGHT, MICHAEL SHILALE ARCHITECTS, ALL RIGHTS RESERVED.</text>

<!-- scale bar -->
<rect x="2642" y="190" width="11" height="84" fill="#fff" stroke="#000"/><path d="M2648 190h5v21h-5zM2642 211h6v21h-6zM2648 232h5v21h-5zM2642 253h6v21h-6z" fill="#000"/><path d="M2636 190h6M2636 232h6M2636 274h6" stroke="#000"/>
<text class="it" transform="rotate(-90 2638 276)" x="2638" y="276">0</text><text class="it" transform="rotate(-90 2638 240)" x="2638" y="240">1/2</text><text class="it" transform="rotate(-90 2638 193)" x="2638" y="193">1</text>
<text class="it" transform="rotate(-90 2667 292)" x="2667" y="292" textLength="118" lengthAdjust="spacingAndGlyphs">IF THIS BAR DOES NOT</text>
<text class="it" transform="rotate(-90 2680 310)" x="2680" y="310" textLength="155" lengthAdjust="spacingAndGlyphs">MEASURE 1" THEN DRAWING IS</text>
<text class="it" transform="rotate(-90 2691 293)" x="2691" y="293" textLength="111" lengthAdjust="spacingAndGlyphs">NOT TO FULL SCALE</text>

<!-- revisions -->
<path class="l" d="M2734 149V431M2755 149V431M2776 149V431M2797 149V431M2818 149V431M2838 149V431M2859 149V431M2880 149V431M2725 317H2902M2725 383H2902" stroke-width="1.300"/>
<path class="c" d="M2800 178q-10 8-6 28q-16 4-10 18q-6 12 4 18q-10 14 0 22q-10 12 0 20q-10 12 0 22q-10 14 0 22q-10 12 0 22q-10 12 0 18q-4 16 12 24q6 12 22 8q4-10 2-20q8-10 0-18M2797 205q14-6 24 16"/>
<g>
<text class="v" transform="rotate(-90 2812 409)" x="2812" y="409">4</text><text class="v" transform="rotate(-90 2812 377)" x="2812" y="377" textLength="55" lengthAdjust="spacingAndGlyphs">10-14-20</text><text class="v" transform="rotate(-90 2812 314)" x="2812" y="314" textLength="99" lengthAdjust="spacingAndGlyphs">FOR ARB REVIEW</text>
<text class="v" transform="rotate(-90 2833 409)" x="2833" y="409">3</text><text class="v" transform="rotate(-90 2833 381)" x="2833" y="381" textLength="61" lengthAdjust="spacingAndGlyphs">09-24-20</text><text class="v" transform="rotate(-90 2833 316)" x="2833" y="316" textLength="130" lengthAdjust="spacingAndGlyphs">FOR ARB SUBMISSION</text>
<text class="v" transform="rotate(-90 2853 409)" x="2853" y="409">2</text><text class="v" transform="rotate(-90 2853 377)" x="2853" y="377" textLength="57" lengthAdjust="spacingAndGlyphs">02-10-20</text><text class="v" transform="rotate(-90 2853 316)" x="2853" y="316" textLength="107" lengthAdjust="spacingAndGlyphs">OWNER REVISIONS</text>
<text class="v" transform="rotate(-90 2874 409)" x="2874" y="409">1</text><text class="v" transform="rotate(-90 2874 377)" x="2874" y="377" textLength="57" lengthAdjust="spacingAndGlyphs">10-11-19</text><text class="v" transform="rotate(-90 2874 316)" x="2874" y="316" textLength="121" lengthAdjust="spacingAndGlyphs">FOR ARB USE ONLY</text>
<text transform="rotate(-90 2897 421)" x="2897" y="421" textLength="19" lengthAdjust="spacingAndGlyphs">No.</text><text transform="rotate(-90 2897 379)" x="2897" y="379" textLength="25" lengthAdjust="spacingAndGlyphs">Date</text><text transform="rotate(-90 2897 314)" x="2897" y="314" textLength="52" lengthAdjust="spacingAndGlyphs">Revisions</text>
</g>

<!-- drawn block -->
<text transform="rotate(-90 2729 760)" x="2729" y="760" textLength="66" lengthAdjust="spacingAndGlyphs">Drawn by</text>
<text class="big" transform="rotate(-90 2744 672)" x="2744" y="672" textLength="19" lengthAdjust="spacingAndGlyphs">ML</text>
<text transform="rotate(-90 2767 760)" x="2767" y="760" textLength="78" lengthAdjust="spacingAndGlyphs">Checked by</text>
<text class="big" transform="rotate(-90 2785 697)" x="2785" y="697" textLength="40" lengthAdjust="spacingAndGlyphs">MS/JC</text>
<text transform="rotate(-90 2804 760)" x="2804" y="760" textLength="69" lengthAdjust="spacingAndGlyphs">Project No.</text>
<text class="big" transform="rotate(-90 2828 702)" x="2828" y="702" textLength="47" lengthAdjust="spacingAndGlyphs">39059</text>
<text transform="rotate(-90 2841 760)" x="2841" y="760" textLength="35" lengthAdjust="spacingAndGlyphs">Scale</text>
<text class="big" transform="rotate(-90 2858 733)" x="2858" y="733" textLength="78" lengthAdjust="spacingAndGlyphs">AS NOTED</text>
<text transform="rotate(-90 2879 760)" x="2879" y="760" textLength="29" lengthAdjust="spacingAndGlyphs">Date</text>
<text class="big" transform="rotate(-90 2897 731)" x="2897" y="731" textLength="76" lengthAdjust="spacingAndGlyphs">09/30/19</text>

<!-- engineers -->
<text transform="rotate(-90 2757 1007)" x="2757" y="1007" textLength="65" lengthAdjust="spacingAndGlyphs">Mechanical</text>
<text transform="rotate(-90 2768 1007)" x="2768" y="1007" textLength="72" lengthAdjust="spacingAndGlyphs">&amp; Electrical</text>
<text transform="rotate(-90 2779 1007)" x="2779" y="1007" textLength="58" lengthAdjust="spacingAndGlyphs">Engineer:</text>
<text transform="rotate(-90 2856 1008)" x="2856" y="1008" textLength="59" lengthAdjust="spacingAndGlyphs">Structural</text>
<text transform="rotate(-90 2867 1008)" x="2867" y="1008" textLength="58" lengthAdjust="spacingAndGlyphs">Engineer:</text>

<!-- project title -->
<text class="sf" transform="rotate(-90 2782 1254)" x="2782" y="1254" textLength="144" lengthAdjust="spacingAndGlyphs">RETAIL AND</text>
<text class="sf" transform="rotate(-90 2812 1291)" x="2812" y="1291" textLength="215" lengthAdjust="spacingAndGlyphs">WAREHOUSE AT 9</text>
<text class="sf" transform="rotate(-90 2842 1257)" x="2842" y="1257" textLength="147" lengthAdjust="spacingAndGlyphs">HOLT DRIVE</text>
<text class="sm" transform="rotate(-90 2890 1326)" x="2890" y="1326" textLength="58" lengthAdjust="spacingAndGlyphs">9 HOLT DRIVE,</text>
<text class="sm" transform="rotate(-90 2902 1326)" x="2902" y="1326" textLength="101" lengthAdjust="spacingAndGlyphs">STONY POINT, NY 10980</text>
<text class="sm" transform="rotate(-90 2890 1142)" x="2890" y="1142" textLength="98" lengthAdjust="spacingAndGlyphs">TOWN OF STONY POINT</text>
<text class="sm" transform="rotate(-90 2902 1136)" x="2902" y="1136" textLength="92" lengthAdjust="spacingAndGlyphs">COUNTY OF ROCKLAND</text>

<!-- logo -->
<rect x="2751" y="1559" width="75" height="76" fill="#000"/>
<path d="M2751 1595h27v4h-27zM2798 1581h28v3.500h-28zM2798 1609h28v3.500h-28z" fill="#fff"/>
<circle cx="2788" cy="1513" r="38" fill="#000"/>
<path d="M2777 1474h4v39h-4zM2796 1514h3v38h-3z" fill="#fff"/>
<path d="M2751 1443L2826 1405V1481Z" fill="#000"/><rect x="2798" y="1441" width="29" height="4" fill="#fff"/>
<rect x="2847" y="1405" width="4" height="229" fill="#000"/>
<text transform="rotate(-90 2841 1635)" x="2841" y="1635" textLength="228" lengthAdjust="spacingAndGlyphs">MICHAEL SHILALE ARCHITECTS, L.L.P.</text>
<text transform="rotate(-90 2863 1635)" x="2863" y="1635" textLength="228" lengthAdjust="spacingAndGlyphs" style="font-size:11px;font-weight:700">140 Park Avenue New City, NY 10956 Tel 845-708-9200</text>
<text transform="rotate(-90 2874 1551)" x="2874" y="1551" textLength="61" lengthAdjust="spacingAndGlyphs" style="font-size:10px;font-weight:700">www.shilale.com</text>

<!-- drawing title -->
<text transform="rotate(-90 2729 1894)" x="2729" y="1894" textLength="75" lengthAdjust="spacingAndGlyphs">Drawing Title</text>
<text transform="rotate(-90 2768 1878)" x="2768" y="1878" textLength="153" lengthAdjust="spacingAndGlyphs" style="font-size:22px;font-weight:700;fill:#000;stroke:#000;stroke-width:.5">ELEVATIONS</text>
<text transform="rotate(-90 2833 1894)" x="2833" y="1894" textLength="69" lengthAdjust="spacingAndGlyphs">Drawing No.</text>
<text transform="rotate(-90 2878 1860)" x="2878" y="1860" textLength="112" lengthAdjust="spacingAndGlyphs" style="font-size:36px;font-weight:700;fill:#000;stroke:#000;stroke-width:.6">A-200</text>
</svg>
</body></html>
